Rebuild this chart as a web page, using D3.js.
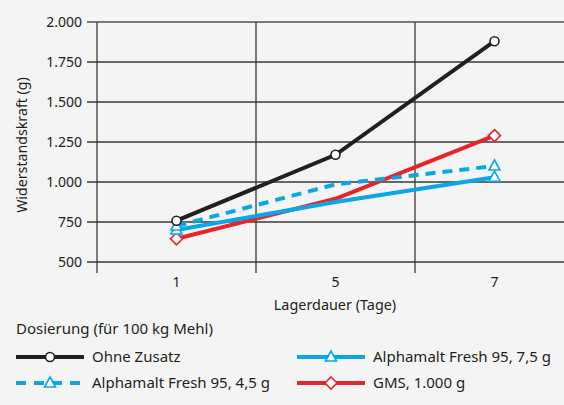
<!DOCTYPE html>
<html>
<head>
<meta charset="utf-8">
<script src="https://cdn.jsdelivr.net/npm/d3@7.9.0/dist/d3.min.js"></script>
<style>
  html, body { margin: 0; padding: 0; background: #f4f4f4; }
  svg { display: block; font-family: "Noto Sans", sans-serif; }
</style>
</head>
<body>
<div id="chart"></div>
<script>
// Chart data
const days = ["1", "5", "7"];
const yTicks = [500, 750, 1000, 1250, 1500, 1750, 2000];

const ohneZusatz = [758, 1170, 1880];
const alpha45 = [725, 985, 1100];
const alpha75 = [700, 875, 1030];
const gms = [645, 895, 1290];

// which points carry a marker (the original only marks day 5 for "Ohne Zusatz")
const series = [
    { name: "Ohne Zusatz", values: ohneZusatz, color: "#231f20", marker: "circle", dashed: false, marked: [0, 1, 2] },
    { name: "Alphamalt Fresh 95, 4,5 g", values: alpha45, color: "#0aa6e6", marker: "triangle", dashed: true, marked: [0, 2] },
    { name: "Alphamalt Fresh 95, 7,5 g", values: alpha75, color: "#0aa6e6", marker: "triangle", dashed: false, marked: [0, 2] },
    { name: "GMS, 1.000 g", values: gms, color: "#e8232a", marker: "diamond", dashed: false, marked: [0, 2] }
];

const width = 564;
const height = 405;

const svg = d3.select("#chart")
    .append("svg")
    .attr("width", width)
    .attr("height", height);

svg.append("rect").attr("width", width).attr("height", height).attr("fill", "#f4f4f4");

// Scales (band continues past the right edge, as in the original)
const xScale = d3.scaleBand().domain(days).range([97, 574]);
const yScale = d3.scaleLinear().domain([500, 2000]).range([262, 22]);
const cx = d => xScale(d) + xScale.bandwidth() / 2;

// horizontal grid
const grid = svg.append("g");
grid.selectAll("line.h")
    .data(yTicks)
    .join("line")
    .attr("class", "h")
    .attr("x1", 87)
    .attr("x2", width)
    .attr("y1", d => yScale(d))
    .attr("y2", d => yScale(d))
    .attr("stroke", d => d === 2000 ? "#7a7a7a" : "#3a3a3a")
    .attr("stroke-width", d => d === 2000 ? 2 : 1.4);

// vertical grid at band boundaries
grid.selectAll("line.v")
    .data(days)
    .join("line")
    .attr("class", "v")
    .attr("x1", d => xScale(d))
    .attr("x2", d => xScale(d))
    .attr("y1", yScale(2000))
    .attr("y2", yScale(500) + 11)
    .attr("stroke", "#3a3a3a")
    .attr("stroke-width", 1.3);

// y tick labels
svg.append("g").selectAll("text")
    .data(yTicks)
    .join("text")
    .attr("x", 82)
    .attr("y", d => yScale(d))
    .attr("dy", "0.36em")
    .attr("text-anchor", "end")
    .attr("font-size", 14)
    .attr("fill", "#231f20")
    .text(d => d3.format(",")(d).replace(",", "."));

// x tick labels
svg.append("g").selectAll("text")
    .data(days)
    .join("text")
    .attr("x", cx)
    .attr("y", 282)
    .attr("dy", "0.36em")
    .attr("text-anchor", "middle")
    .attr("font-size", 14)
    .attr("fill", "#231f20")
    .text(d => d);

// axis titles
svg.append("text")
    .attr("transform", `translate(22, ${yScale(1250) + 3}) rotate(-90)`)
    .attr("dy", "0.36em")
    .attr("text-anchor", "middle")
    .attr("font-size", 14.2)
    .attr("fill", "#231f20")
    .text("Widerstandskraft (g)");

svg.append("text")
    .attr("x", 335)
    .attr("y", 305)
    .attr("dy", "0.36em")
    .attr("text-anchor", "middle")
    .attr("font-size", 14.4)
    .attr("fill", "#231f20")
    .text("Lagerdauer (Tage)");

// marker drawing
function drawMarker(g, type, color) {
    if (type === "circle") {
        g.append("circle").attr("r", 4.5)
            .attr("fill", "#fff").attr("stroke", color).attr("stroke-width", 1.6);
    } else if (type === "triangle") {
        g.append("path").attr("d", "M0,-6L5.5,4L-5.5,4Z")
            .attr("fill", "#fff").attr("stroke", color).attr("stroke-width", 1.6);
    } else {
        g.append("path").attr("d", "M0,-6L6,0L0,6L-6,0Z")
            .attr("fill", "#fff").attr("stroke", color).attr("stroke-width", 1.6);
    }
}

const line = d3.line()
    .x((d, i) => cx(days[i]))
    .y(d => yScale(d));

// draw series back to front
const drawOrder = [series[3], series[2], series[1], series[0]];
drawOrder.forEach(s => {
    svg.append("path")
        .datum(s.values)
        .attr("d", line)
        .attr("fill", "none")
        .attr("stroke", s.color)
        .attr("stroke-width", 4)
        .attr("stroke-dasharray", s.dashed ? "10,7" : null);
});
drawOrder.forEach(s => {
    s.marked.forEach(i => {
        const m = svg.append("g")
            .attr("transform", `translate(${cx(days[i])},${yScale(s.values[i])})`);
        drawMarker(m, s.marker, s.color);
    });
});

// legend
svg.append("text")
    .attr("x", 16)
    .attr("y", 329)
    .attr("dy", "0.36em")
    .attr("font-size", 15)
    .attr("fill", "#231f20")
    .text("Dosierung (für 100 kg Mehl)");

const legendPos = [
    { x: 16, y: 357 },
    { x: 16, y: 383 },
    { x: 297, y: 357 },
    { x: 297, y: 383 }
];

series.forEach((s, i) => {
    const p = legendPos[i];
    const g = svg.append("g").attr("transform", `translate(${p.x},${p.y})`);
    g.append("line")
        .attr("x1", 0).attr("x2", 68)
        .attr("stroke", s.color)
        .attr("stroke-width", 4)
        .attr("stroke-dasharray", s.dashed ? "10,8" : null);
    const m = g.append("g").attr("transform", "translate(34,0)");
    drawMarker(m, s.marker, s.color);
    g.append("text")
        .attr("x", 76)
        .attr("dy", "0.36em")
        .attr("font-size", 15)
        .attr("fill", "#231f20")
        .text(s.name);
});
</script>
</body>
</html>
